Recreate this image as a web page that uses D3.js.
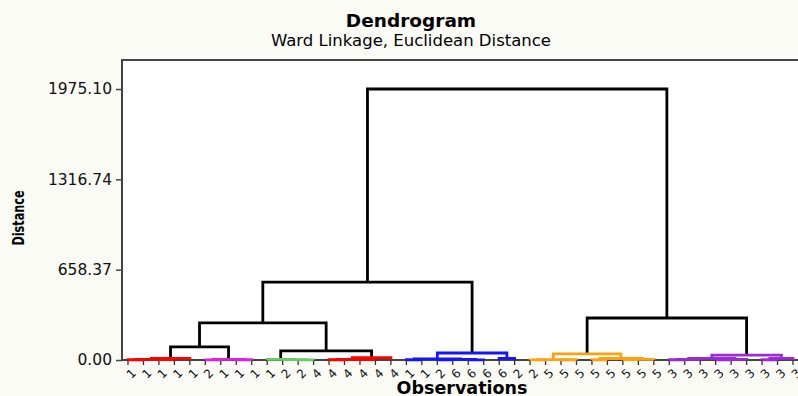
<!DOCTYPE html>
<html>
<head>
<meta charset="utf-8">
<script src="https://cdn.jsdelivr.net/npm/d3@7"></script>
<style>
  html, body { margin: 0; padding: 0; background: #fbfbf6; }
  #chart { width: 798px; height: 396px; overflow: hidden; }
  text { font-family: 'DejaVu Sans', Verdana, sans-serif; }
</style>
</head>
<body>
<div id="chart"></div>
<script>
// observation labels, left to right as they sit under the tree
const leafLabels = ['1','1','1','1','1','2','1','1','1','1','2','2','4','4','4','4','4','4',
  '1','1','2','6','6','6','6','2','2','5','5','5','5','5','5','5','5',
  '3','3','3','3','3','3','3','3','3'];

// linkage: [left, right, distance]; ids < 44 are leaves, row k makes node 44 + k
const merges = [
  [0, 1, 2], [2, 3, 3], [44, 45, 5], [46, 4, 12],                 // red
  [5, 6, 1.5], [7, 8, 2], [48, 49, 5],                            // magenta
  [11, 12, 1.5], [10, 51, 3], [9, 52, 5],                         // green
  [13, 14, 2], [15, 16, 2.5], [54, 55, 5], [56, 17, 17],          // red
  [18, 19, 2], [20, 21, 2], [22, 23, 1.5], [59, 60, 4], [58, 61, 8], [24, 25, 12], [62, 63, 51], // blue
  [26, 27, 1.5], [28, 29, 2], [65, 66, 3], [30, 31, 2], [32, 33, 2.5], [69, 34, 5], [68, 70, 11], [67, 71, 44], // orange
  [35, 36, 2], [73, 37, 4], [38, 39, 2], [75, 40, 5], [74, 76, 12], [41, 42, 2], [78, 43, 12], [77, 79, 36], // purple
  [47, 50, 95], [53, 57, 66], [81, 82, 270], [83, 64, 568], [72, 80, 306], [84, 85, 1975.1]
];

const yTicks = [0, 658.37, 1316.74, 1975.10];
const cutHeight = 60;
const clusterColors = ['#ff0000', '#e020e0', '#66cc66', '#ff0000', '#1414ff', '#ffa010', '#9a2bd6'];

const W = 798, H = 396;
const plot = { left: 122, top: 60, right: 806, bottom: 360 };

const svg = d3.select('#chart').append('svg')
  .attr('width', W).attr('height', H);

// --- build tree ---
const nodes = leafLabels.map((l, i) => ({ id: i, label: l, h: 0 }));
merges.forEach((m, k) => {
  nodes.push({ id: leafLabels.length + k, h: m[2], children: [nodes[m[0]], nodes[m[1]]] });
});
const root = d3.hierarchy(nodes[nodes.length - 1]);

const leaves = root.leaves();
const x = d3.scalePoint().domain(leaves.map(d => d.data.id)).range([128, 793]);
const y = d3.scaleLinear().domain([0, 1975.1]).range([plot.bottom, 89]);

root.eachAfter(d => {
  d.x = d.children ? d3.mean(d.children, c => c.x) : x(d.data.id);
});

let ci = 0;
root.eachBefore(d => {
  if (d.data.h < cutHeight && (!d.parent || d.parent.data.h >= cutHeight)) d.color = clusterColors[ci++];
  else d.color = d.parent && d.parent.color !== '#000' ? d.parent.color : '#000';
});

// --- frame ---
svg.append('rect')
  .attr('x', plot.left).attr('y', plot.top)
  .attr('width', plot.right - plot.left).attr('height', plot.bottom - plot.top)
  .attr('fill', '#fff').attr('stroke', '#444').attr('stroke-width', 2);

// y axis
const yAxis = d3.axisLeft(y).tickValues(yTicks).tickFormat(d3.format('.2f')).tickSize(6).tickSizeOuter(0);
const gy = svg.append('g').attr('transform', `translate(${plot.left},0)`).call(yAxis);
gy.select('.domain').remove();
gy.selectAll('line').attr('stroke', '#444').attr('stroke-width', 1.5);
gy.selectAll('text').attr('x', -10).style('font-size', '15.5px').style('fill', '#111')
  .style('font-family', "'DejaVu Sans', Verdana, sans-serif");

// leaf ticks + labels
const gx = svg.append('g');
gx.selectAll('line').data(leaves).enter().append('line')
  .attr('x1', d => d.x).attr('x2', d => d.x)
  .attr('y1', plot.bottom).attr('y2', plot.bottom + 5)
  .attr('stroke', '#333').attr('stroke-width', 1.3);
gx.selectAll('text').data(leaves).enter().append('text')
  .attr('transform', d => `translate(${d.x + 3},${plot.bottom + 8}) rotate(-45)`)
  .attr('text-anchor', 'end').attr('dy', '0.7em')
  .style('font-size', '12px').style('fill', '#111')
  .text(d => d.data.label);

// --- links ---
svg.append('g').selectAll('path')
  .data(root.descendants().filter(d => d.children))
  .enter().append('path')
  .attr('d', d => {
    const [a, b] = d.children;
    return `M${a.x},${y(a.data.h)}V${y(d.data.h)}H${b.x}V${y(b.data.h)}`;
  })
  .attr('fill', 'none')
  .attr('stroke', d => d.color)
  .attr('stroke-width', 2.8)
  .attr('stroke-linejoin', 'miter');

// --- titles ---
svg.append('text').attr('x', 411).attr('y', 27).attr('text-anchor', 'middle')
  .style('font-size', '18.5px').style('font-weight', 'bold').text('Dendrogram');
svg.append('text').attr('x', 411).attr('y', 46).attr('text-anchor', 'middle')
  .style('font-size', '16.5px').text('Ward Linkage, Euclidean Distance');

svg.append('text').attr('transform', 'translate(18,218) rotate(-90) scale(0.9,1.3)').attr('text-anchor', 'middle')
  .attr('dy', '0.35em')
  .style('font-size', '12.5px').style('font-weight', 'bold').text('Distance');
svg.append('text').attr('x', 462).attr('y', 394).attr('text-anchor', 'middle')
  .style('font-size', '17.5px').style('font-weight', 'bold').text('Observations');
</script>
</body>
</html>
